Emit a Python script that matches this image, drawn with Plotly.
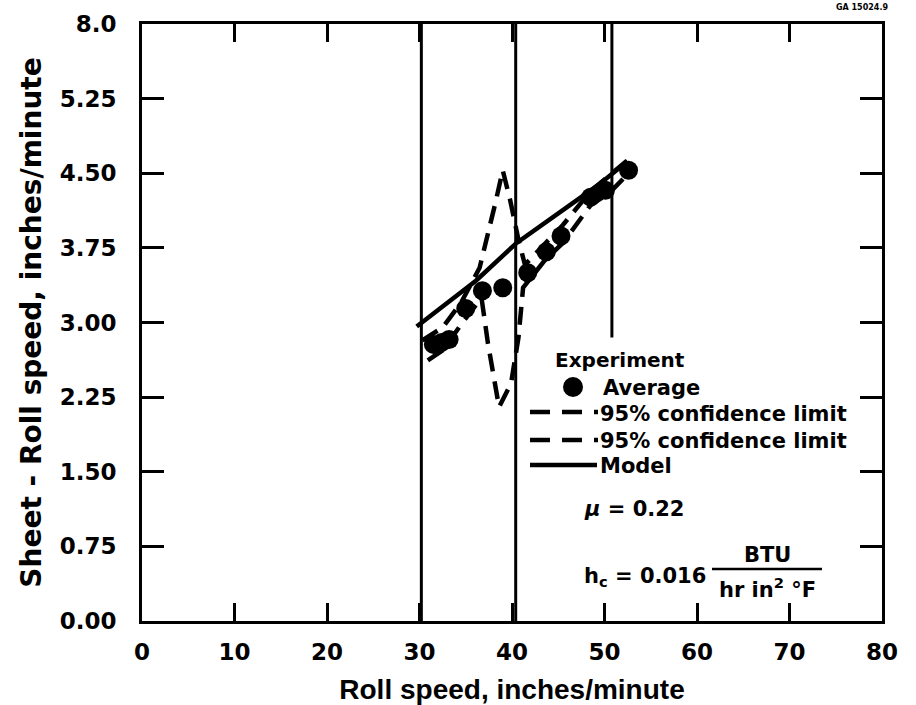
import plotly.graph_objects as go

# ---------------- data ----------------
avg_x = [31.5, 32.4, 33.2, 35.0, 36.8, 39.0, 41.7, 43.7, 45.3, 48.5, 50.1, 52.6]
avg_y = [2.78, 2.80, 2.83, 3.14, 3.32, 3.35, 3.50, 3.71, 3.87, 4.26, 4.33, 4.53]

upper_x = [30.3, 32.5, 34.5, 36.5, 38.2, 39.0, 39.8, 40.7, 41.4, 43.5, 45.5, 48.5, 50.5, 52.6]
upper_y = [2.82, 2.95, 3.20, 3.55, 4.20, 4.53, 4.23, 3.83, 3.58, 3.78, 3.98, 4.32, 4.47, 4.64]

lower_x = [30.9, 32.5, 34.5, 36.7, 37.4, 38.6, 39.9, 40.7, 41.2, 43.5, 45.5, 48.5, 50.5, 52.4]
lower_y = [2.62, 2.72, 2.98, 3.25, 2.79, 2.15, 2.39, 2.85, 3.35, 3.62, 3.80, 4.18, 4.30, 4.48]

model_x = [29.7, 33.0, 36.1, 40.5, 45.7, 49.3, 52.5]
model_y = [2.96, 3.20, 3.42, 3.80, 4.14, 4.38, 4.62]

vline_x = [30.2, 40.4, 50.8]
vline_y0 = [0.0, 0.0, 2.85]

x_tickvals = [0, 10, 20, 30, 40, 50, 60, 70, 80]
x_ticktext = ["0", "10", "20", "30", "40", "50", "60", "70", "80"]
y_tickvals = [0, 0.75, 1.5, 2.25, 3.0, 3.75, 4.5, 5.25, 6.0]
y_ticktext = ["0.00", "0.75", "1.50", "2.25", "3.00", "3.75", "4.50", "5.25", "8.0"]

# ---------------- layout geometry ----------------
W, H = 916, 705
L, R, T, B = 142, 34, 24, 84
PW, PH = W - L - R, H - T - B


def px(xp):
    return (xp - L) / PW


def py(yp):
    return (H - B - yp) / PH


BOLD = "DejaVu Sans"
BLACK = "black"

fig = go.Figure()

dash = "18px,10px"
fig.add_trace(go.Scatter(x=upper_x, y=upper_y, mode="lines",
                         line=dict(color=BLACK, width=4.5, dash=dash), showlegend=False))
fig.add_trace(go.Scatter(x=lower_x, y=lower_y, mode="lines",
                         line=dict(color=BLACK, width=4.5, dash=dash), showlegend=False))
fig.add_trace(go.Scatter(x=model_x, y=model_y, mode="lines",
                         line=dict(color=BLACK, width=4.5), showlegend=False))
fig.add_trace(go.Scatter(x=avg_x, y=avg_y, mode="markers",
                         marker=dict(color=BLACK, size=19), showlegend=False))

shapes = []
for vx, vy0 in zip(vline_x, vline_y0):
    shapes.append(dict(type="line", xref="x", yref="y", x0=vx, x1=vx, y0=vy0, y1=6.0,
                       line=dict(color=BLACK, width=3)))

# legend samples (pixel positions converted to paper)
shapes.append(dict(type="line", xref="paper", yref="paper", x0=px(530), x1=px(598),
                   y0=py(412), y1=py(412), line=dict(color=BLACK, width=4.5, dash="20px,12px")))
shapes.append(dict(type="line", xref="paper", yref="paper", x0=px(530), x1=px(598),
                   y0=py(440), y1=py(440), line=dict(color=BLACK, width=4.5, dash="20px,12px")))
shapes.append(dict(type="line", xref="paper", yref="paper", x0=px(530), x1=px(597),
                   y0=py(465), y1=py(465), line=dict(color=BLACK, width=4.5)))
shapes.append(dict(type="circle", xref="paper", yref="paper", x0=px(563), x1=px(583),
                   y0=py(397), y1=py(377), fillcolor=BLACK, line=dict(color=BLACK, width=0)))
# fraction bar
shapes.append(dict(type="line", xref="paper", yref="paper", x0=px(712), x1=px(822),
                   y0=py(569), y1=py(569), line=dict(color=BLACK, width=2.5)))

ann = []


def add_text(text, x, y, xanchor="left", size=21, family=BOLD):
    ann.append(dict(text=text, xref="paper", yref="paper", x=px(x), y=py(y),
                    xanchor=xanchor, yanchor="middle", showarrow=False,
                    font=dict(family=family, size=size, color=BLACK, weight="bold")))


add_text("Experiment", 553, 360, size=20)
add_text("Average", 601, 388)
add_text("95% confidence limit", 598, 414)
add_text("95% confidence limit", 598, 441)
add_text("Model", 598, 466)
add_text("<i>μ</i> = 0.22", 582, 509)
add_text("h<sub>c</sub> = 0.016", 582, 577)
add_text("BTU", 767, 555, xanchor="center")
add_text("hr in<sup>2</sup> °F", 767, 588, xanchor="center")
add_text("GA 15024.9", 890, 8, xanchor="right", size=8)

fig.update_layout(
    width=W, height=H,
    margin=dict(l=L, r=R, t=T, b=B, autoexpand=False),
    paper_bgcolor="white", plot_bgcolor="white",
    shapes=shapes, annotations=ann,
    xaxis=dict(range=[0, 80], tickvals=x_tickvals, ticktext=x_ticktext,
               automargin=False,
               showgrid=False, zeroline=False, showline=True, linewidth=3,
               linecolor=BLACK, mirror="ticks", ticks="inside", ticklen=18,
               tickwidth=3, tickcolor=BLACK, ticklabelstandoff=8,
               tickfont=dict(family=BOLD, size=23, color=BLACK, weight="bold"),
               title=dict(text="Roll speed, inches/minute", standoff=18,
                          font=dict(family="Liberation Sans", size=28, color=BLACK,
                                    weight="bold"))),
    yaxis=dict(range=[0, 6.0], tickvals=y_tickvals, ticktext=y_ticktext,
               automargin=False,
               showgrid=False, zeroline=False, showline=True, linewidth=3,
               linecolor=BLACK, mirror="ticks", ticks="inside", ticklen=22,
               tickwidth=3, tickcolor=BLACK, ticklabelstandoff=18,
               tickfont=dict(family=BOLD, size=23, color=BLACK, weight="bold"),
               title=dict(text="Sheet - Roll speed, inches/minute", standoff=10,
                          font=dict(family=BOLD, size=28, color=BLACK, weight="bold"))),
)

fig.write_html("out.html")
